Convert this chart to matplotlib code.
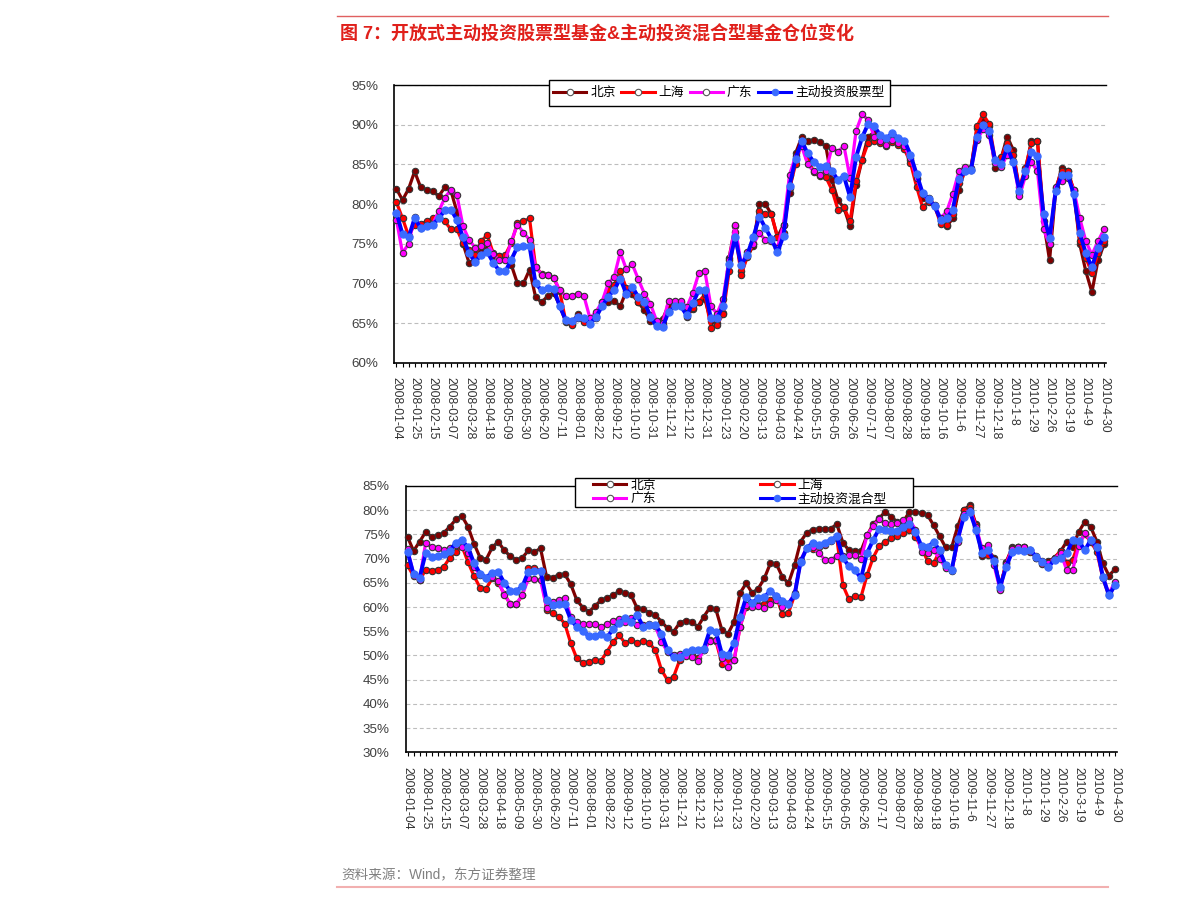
import matplotlib
matplotlib.use("Agg")
import matplotlib.pyplot as plt
from matplotlib.lines import Line2D
from matplotlib.patches import Rectangle
import numpy as np

plt.rcParams['font.family'] = ['Liberation Sans', 'Noto Sans CJK SC']
plt.rcParams['axes.unicode_minus'] = False

# ---------------- data ----------------
dates = [
    "2008-01-04", "2008-01-11", "2008-01-18", "2008-01-25", "2008-02-01", "2008-02-08",
    "2008-02-15", "2008-02-22", "2008-02-29", "2008-03-07", "2008-03-14", "2008-03-21",
    "2008-03-28", "2008-04-04", "2008-04-11", "2008-04-18", "2008-04-25", "2008-05-02",
    "2008-05-09", "2008-05-16", "2008-05-23", "2008-05-30", "2008-06-06", "2008-06-13",
    "2008-06-20", "2008-06-27", "2008-07-04", "2008-07-11", "2008-07-18", "2008-07-25",
    "2008-08-01", "2008-08-08", "2008-08-15", "2008-08-22", "2008-08-29", "2008-09-05",
    "2008-09-12", "2008-09-19", "2008-09-26", "2008-10-10", "2008-10-17", "2008-10-24",
    "2008-10-31", "2008-11-07", "2008-11-14", "2008-11-21", "2008-11-28", "2008-12-05",
    "2008-12-12", "2008-12-19", "2008-12-26", "2008-12-31", "2009-01-09", "2009-01-16",
    "2009-01-23", "2009-02-06", "2009-02-13", "2009-02-20", "2009-02-27", "2009-03-06",
    "2009-03-13", "2009-03-20", "2009-03-27", "2009-04-03", "2009-04-10", "2009-04-17",
    "2009-04-24", "2009-04-30", "2009-05-08", "2009-05-15", "2009-05-22", "2009-05-27",
    "2009-06-05", "2009-06-12", "2009-06-19", "2009-06-26", "2009-07-03", "2009-07-10",
    "2009-07-17", "2009-07-24", "2009-07-31", "2009-08-07", "2009-08-14", "2009-08-21",
    "2009-08-28", "2009-09-04", "2009-09-11", "2009-09-18", "2009-09-25", "2009-09-30",
    "2009-10-16", "2009-10-23", "2009-10-30", "2009-11-6", "2009-11-13", "2009-11-20",
    "2009-11-27", "2009-12-4", "2009-12-11", "2009-12-18", "2009-12-25", "2009-12-31",
    "2010-1-8", "2010-1-15", "2010-1-22", "2010-1-29", "2010-2-5", "2010-2-12",
    "2010-2-26", "2010-3-5", "2010-3-12", "2010-3-19", "2010-3-26", "2010-4-2",
    "2010-4-9", "2010-4-16", "2010-4-23", "2010-4-30",
]
tick_labels = [d if i % 3 == 0 else "" for i, d in enumerate(dates)]

names_top = ["北京", "上海", "广东", "主动投资股票型"]
names_bot = ["北京", "上海", "广东", "主动投资混合型"]

# top panel: 开放式主动投资股票型基金仓位 (%)
top_bj = [81.9, 80.5, 81.9, 84.1, 82.1, 81.8, 81.6, 81.0, 82.1, 81.7,
          79.0, 75.0, 72.6, 72.9, 74.0, 74.3, 73.5, 73.4, 73.3, 72.3,
          70.0, 70.0, 71.7, 68.3, 67.6, 68.4, 68.8, 67.2, 65.1, 64.9,
          66.2, 65.4, 65.4, 65.9, 67.4, 67.6, 67.8, 67.1, 69.0, 68.6,
          67.6, 66.6, 65.3, 65.0, 65.5, 67.2, 67.6, 67.7, 65.8, 66.8,
          67.6, 68.0, 65.2, 65.0, 66.3, 73.2, 77.2, 71.5, 73.4, 74.7,
          80.0, 80.0, 78.7, 75.8, 77.4, 81.4, 86.4, 88.4, 87.9, 88.1,
          87.8, 87.3, 83.0, 80.5, 79.5, 77.2, 82.4, 85.6, 88.5, 89.0,
          88.3, 87.8, 88.2, 87.8, 87.2, 85.6, 83.2, 80.8, 80.8, 79.8,
          77.8, 77.2, 78.2, 81.8, 84.3, 84.5, 89.6, 90.4, 89.8, 84.5,
          85.8, 88.5, 86.8, 81.4, 84.3, 88.0, 88.0, 77.8, 72.9, 81.6,
          84.6, 84.2, 81.6, 74.9, 71.5, 68.9, 72.9, 74.9]
top_sh = [80.2, 78.2, 76.0, 77.4, 77.5, 77.8, 78.2, 78.4, 77.8, 76.8,
          76.8, 75.1, 74.2, 73.6, 75.3, 76.1, 73.8, 73.4, 73.6, 75.1,
          77.6, 77.8, 78.2, 72.1, 71.2, 71.1, 70.7, 69.0, 65.2, 64.7,
          65.6, 65.1, 65.2, 65.6, 67.7, 69.2, 69.8, 71.5, 69.4, 69.2,
          67.7, 67.3, 66.0, 65.2, 64.8, 66.5, 67.3, 67.3, 66.9, 66.9,
          67.7, 68.6, 64.4, 64.8, 66.1, 71.5, 76.5, 71.1, 73.3, 75.1,
          79.1, 78.8, 78.7, 75.9, 76.3, 82.0, 85.0, 87.9, 85.8, 84.0,
          83.5, 83.4, 81.8, 79.3, 79.6, 77.8, 82.9, 85.6, 87.7, 87.9,
          87.7, 87.3, 87.8, 87.5, 86.9, 85.2, 82.2, 79.6, 80.3, 79.7,
          77.5, 77.4, 78.7, 82.6, 84.1, 84.3, 89.8, 91.3, 90.1, 85.6,
          85.9, 87.7, 86.2, 82.1, 84.5, 87.7, 87.9, 78.7, 74.9, 82.0,
          84.1, 84.1, 81.8, 75.3, 73.2, 71.3, 73.8, 75.3]
top_gd = [78.0, 73.8, 75.0, 78.4, 77.0, 77.3, 77.5, 79.1, 80.8, 81.8,
          81.1, 77.2, 75.5, 74.5, 74.7, 75.1, 73.7, 72.9, 72.9, 75.3,
          77.4, 76.4, 75.5, 72.1, 71.1, 71.1, 70.7, 69.1, 68.4, 68.4,
          68.7, 68.4, 65.6, 66.4, 67.7, 70.0, 70.8, 73.9, 71.8, 72.4,
          70.5, 68.7, 67.4, 65.3, 65.0, 67.8, 67.8, 67.8, 67.0, 68.8,
          71.3, 71.5, 67.1, 66.2, 68.0, 73.0, 77.3, 72.3, 73.9, 74.9,
          76.3, 75.5, 75.3, 74.5, 77.4, 83.7, 86.0, 87.3, 85.0, 84.1,
          83.7, 84.1, 87.1, 86.6, 87.3, 83.3, 89.2, 91.3, 90.6, 88.5,
          87.9, 87.5, 88.1, 87.7, 87.3, 85.8, 83.3, 81.2, 80.5, 79.9,
          78.2, 79.1, 81.3, 84.1, 84.7, 84.3, 88.1, 89.4, 88.7, 85.2,
          84.7, 86.2, 85.4, 81.0, 83.5, 85.3, 84.1, 76.8, 74.9, 82.2,
          82.9, 83.3, 81.8, 78.2, 75.3, 73.6, 75.3, 76.8]
top_fund = [78.9, 76.2, 75.8, 78.2, 77.0, 77.2, 77.4, 78.2, 79.2, 79.3,
            78.0, 75.8, 73.8, 72.7, 73.6, 74.0, 72.6, 71.6, 71.5, 73.0,
            74.6, 74.7, 74.7, 70.0, 69.1, 69.4, 69.3, 67.1, 65.4, 65.3,
            65.7, 65.6, 64.9, 65.8, 67.1, 68.3, 69.2, 70.6, 68.7, 69.5,
            68.3, 67.7, 65.8, 64.6, 64.5, 66.4, 67.1, 67.1, 66.0, 67.5,
            69.1, 69.2, 65.6, 65.6, 67.2, 72.4, 75.8, 72.3, 73.6, 75.8,
            78.4, 77.0, 75.6, 73.9, 76.0, 82.3, 85.7, 87.9, 86.4, 85.3,
            84.7, 84.8, 84.2, 83.0, 83.5, 80.9, 85.9, 88.4, 90.1, 89.8,
            88.7, 88.3, 88.9, 88.3, 88.0, 86.2, 83.8, 81.4, 80.6, 79.7,
            78.0, 78.2, 79.3, 83.2, 84.1, 84.3, 88.5, 90.0, 89.2, 85.5,
            85.0, 87.1, 85.3, 81.7, 84.1, 86.6, 86.0, 78.7, 75.7, 81.6,
            83.7, 83.7, 81.2, 76.3, 73.8, 72.0, 74.5, 75.9]

# bottom panel: 主动投资混合型基金仓位 (%)
bot_bj = [74.5, 71.6, 73.5, 75.5, 74.5, 74.8, 75.3, 76.6, 78.1, 78.8,
          76.6, 73.1, 70.2, 69.8, 72.3, 73.5, 71.7, 70.5, 69.7, 70.2,
          71.7, 71.4, 72.1, 66.2, 66.1, 66.6, 66.8, 64.7, 61.4, 59.9,
          59.0, 60.2, 61.4, 61.9, 62.4, 63.3, 62.9, 62.4, 59.7, 59.5,
          58.8, 58.3, 57.0, 55.6, 54.9, 56.7, 57.2, 57.0, 55.9, 58.0,
          59.9, 59.5, 55.2, 54.5, 56.9, 62.9, 64.9, 62.9, 63.8, 65.9,
          69.0, 68.9, 66.2, 64.9, 68.6, 73.5, 75.3, 76.0, 76.1, 76.2,
          76.2, 77.1, 73.3, 71.7, 71.6, 71.6, 74.8, 77.1, 78.3, 79.7,
          78.6, 77.6, 77.6, 79.7, 79.7, 79.4, 79.0, 76.9, 74.6, 72.3,
          72.4, 76.7, 80.1, 81.0, 77.1, 70.5, 71.7, 70.2, 63.8, 69.3,
          72.3, 72.3, 72.3, 71.7, 70.2, 69.1, 69.5, 70.2, 71.5, 73.5,
          72.5, 75.5, 77.6, 76.5, 73.5, 69.0, 66.5, 67.8]
bot_sh = [68.6, 66.4, 65.5, 67.7, 67.5, 67.7, 68.3, 70.2, 71.4, 72.6,
          69.3, 66.4, 64.0, 63.8, 65.9, 65.0, 62.7, 60.6, 60.6, 62.4,
          68.0, 68.0, 67.5, 59.4, 58.7, 58.0, 56.6, 52.5, 49.4, 48.5,
          48.7, 49.0, 48.9, 50.8, 52.8, 54.2, 52.5, 53.2, 52.5, 53.0,
          52.5, 51.1, 47.0, 44.9, 45.6, 49.0, 50.1, 50.1, 49.4, 51.1,
          53.2, 53.0, 48.3, 48.9, 49.0, 55.9, 60.0, 60.4, 60.4, 60.7,
          61.4, 62.2, 58.5, 58.8, 62.4, 69.3, 72.1, 71.9, 72.3, 72.8,
          73.7, 74.2, 64.5, 61.6, 62.2, 62.1, 66.6, 70.2, 72.6, 73.5,
          74.2, 74.6, 75.3, 76.0, 74.5, 72.3, 69.5, 69.0, 71.6, 68.2,
          67.5, 73.8, 80.0, 80.6, 76.9, 71.1, 70.7, 69.8, 64.2, 69.0,
          72.1, 72.3, 72.3, 71.4, 70.2, 68.9, 68.3, 70.2, 71.6, 69.1,
          69.8, 73.3, 75.0, 73.5, 71.4, 65.9, 62.4, 64.5]
bot_gd = [71.9, 66.8, 65.5, 73.3, 72.3, 72.1, 71.7, 72.1, 72.8, 72.4,
          71.1, 68.3, 66.6, 66.1, 66.2, 65.4, 62.5, 60.7, 60.7, 62.5,
          65.9, 65.7, 65.5, 59.9, 61.1, 61.4, 61.8, 58.0, 56.9, 56.5,
          56.5, 56.5, 55.9, 56.5, 57.2, 57.5, 57.0, 57.8, 56.2, 56.3,
          56.5, 56.0, 52.8, 50.8, 50.1, 50.4, 49.9, 49.6, 48.9, 51.1,
          53.0, 53.2, 49.4, 47.7, 49.0, 55.9, 60.4, 60.0, 60.2, 59.9,
          60.7, 61.4, 60.0, 60.7, 62.8, 69.7, 72.1, 72.3, 71.2, 69.8,
          69.8, 70.5, 70.5, 70.7, 70.7, 70.0, 74.8, 76.7, 78.1, 77.4,
          77.2, 77.4, 77.9, 78.1, 76.0, 71.4, 71.1, 71.7, 70.0, 68.0,
          67.6, 73.5, 79.3, 80.1, 76.6, 72.1, 72.8, 68.6, 63.6, 68.9,
          71.9, 72.3, 72.4, 71.7, 70.5, 69.5, 69.1, 70.0, 71.2, 67.7,
          67.7, 72.6, 75.2, 73.8, 72.1, 66.2, 62.8, 65.2]
bot_fund = [71.4, 66.8, 66.1, 71.1, 70.4, 70.5, 70.9, 71.6, 73.3, 73.8,
            72.3, 69.1, 66.9, 66.1, 67.1, 67.3, 65.0, 63.3, 63.3, 64.3,
            67.3, 67.5, 67.5, 61.4, 60.4, 60.6, 60.6, 57.4, 55.9, 55.1,
            54.0, 54.0, 54.4, 53.8, 55.4, 56.7, 57.8, 56.9, 58.3, 55.9,
            56.2, 56.2, 54.5, 51.1, 49.6, 49.6, 50.8, 51.1, 51.1, 51.4,
            55.2, 54.9, 50.3, 50.0, 52.5, 58.0, 62.0, 60.9, 61.8, 62.1,
            63.3, 62.2, 61.3, 60.7, 62.4, 69.3, 72.1, 73.3, 72.8, 73.3,
            73.8, 74.6, 70.2, 68.4, 67.7, 65.9, 71.2, 73.8, 76.2, 76.0,
            75.7, 75.7, 76.6, 77.2, 75.5, 72.6, 72.3, 73.5, 71.7, 68.6,
            67.7, 74.1, 78.6, 79.7, 76.0, 71.2, 71.7, 69.5, 64.2, 68.3,
            71.4, 71.7, 71.6, 71.7, 70.4, 69.3, 68.3, 69.7, 70.2, 71.1,
            73.8, 73.7, 71.7, 73.9, 72.4, 66.2, 62.4, 64.5]

top_yticks = [60, 65, 70, 75, 80, 85, 90, 95]
bot_yticks = [30, 35, 40, 45, 50, 55, 60, 65, 70, 75, 80, 85]

# ---------------- styling ----------------
line_colors = ["#800000", "#FF0000", "#FF00FF", "#0000FF"]
face_colors = ["#800000", "#FF0000", "#FF00FF", "#3A6BFF"]
edge_colors = ["#333333", "#333333", "#333333", "#3A6BFF"]
line_widths = [2.3, 2.3, 2.3, 2.8]
marker_sizes = [4.6, 4.6, 4.6, 5.2]

W, H = 1191, 902
fig = plt.figure(figsize=(W / 100, H / 100), dpi=100)


def px_axes(l, t, r, b):
    return fig.add_axes([l / W, 1 - b / H, (r - l) / W, (b - t) / H])


def draw_panel(ax, series, yticks, xlim):
    x = np.arange(len(dates))
    for k, vals in enumerate(series):
        ax.plot(x, vals, color=line_colors[k], lw=line_widths[k], marker="o",
                ms=marker_sizes[k], mfc=face_colors[k], mec=edge_colors[k],
                mew=0.8, zorder=3 + k, clip_on=False, solid_joinstyle="round")
    ax.set_xlim(*xlim)
    ax.set_ylim(yticks[0], yticks[-1])
    ax.set_yticks(yticks)
    ax.set_yticklabels([f"{v}%" for v in yticks])
    ax.set_xticks(x)
    ax.set_xticklabels(tick_labels, rotation=270, fontsize=8.8, color="#333333")
    ax.tick_params(axis="x", direction="out", length=3, width=0.8, pad=7.5)
    ax.tick_params(axis="y", length=0, pad=11.5, labelsize=9.6, labelcolor="#404040")
    ax.yaxis.grid(True, linestyle=(0, (3.5, 2.5)), color="#BDBDBD", linewidth=0.8)
    ax.set_axisbelow(True)
    ax.spines["right"].set_visible(False)
    for s in ("left", "bottom"):
        ax.spines[s].set_linewidth(1.2)
        ax.spines[s].set_color("#000000")
    ax.spines["top"].set_linewidth(1.0)
    ax.spines["top"].set_color("#000000")


ax1 = px_axes(394.3, 85, 1106, 362.7)
draw_panel(ax1, [top_bj, top_sh, top_gd, top_fund], top_yticks, (-0.36, 117.33))

ax2 = px_axes(405.7, 486, 1117, 752.3)
draw_panel(ax2, [bot_bj, bot_sh, bot_gd, bot_fund], bot_yticks, (-0.30, 117.33))


def legend_handles(names):
    hs = []
    for k, n in enumerate(names):
        mfc = "white" if k < 3 else face_colors[k]
        mec = "#555555" if k < 3 else face_colors[k]
        hs.append(Line2D([0], [0], color=line_colors[k], lw=2.2, marker="o",
                         ms=4.6, mfc=mfc, mec=mec, mew=0.8, label=n))
    return hs


def frame_box(l, t, r, b):
    rect = Rectangle((l / W, 1 - b / H), (r - l) / W, (b - t) / H,
                     transform=fig.transFigure, facecolor="white",
                     edgecolor="black", linewidth=1.0, zorder=2)
    fig.patches.append(rect)


# top legend (one row)
frame_box(549, 80, 890, 106)
h_top = legend_handles(names_top)
fig.legend(handles=h_top, loc="center left", bbox_to_anchor=(553 / W, 1 - 93 / H),
           ncol=4, frameon=False, fontsize=9.2, handlelength=2.6,
           handletextpad=0.3, columnspacing=0.45, borderpad=0.0, borderaxespad=0.0)

# bottom legend (two rows)
frame_box(575, 478, 913, 507)
h_bot = legend_handles(names_bot)
fig.legend(handles=[h_bot[0], h_bot[2], h_bot[1], h_bot[3]], loc="center left",
           bbox_to_anchor=(593 / W, 1 - 492.5 / H), ncol=2, frameon=False,
           fontsize=9.2, handlelength=2.6, handletextpad=0.3, columnspacing=8.2,
           labelspacing=0.12, borderpad=0.0, borderaxespad=0.0)

# title, source and rules
fig.text(340 / W, 1 - 35 / H, "图 7：开放式主动投资股票型基金&主动投资混合型基金仓位变化",
         color="#E0201B", fontsize=13, fontweight="bold", va="center", ha="left")
fig.text(341 / W, 1 - 875 / H, "资料来源：Wind，东方证券整理",
         color="#808080", fontsize=9.8, va="center", ha="left")
fig.add_artist(Line2D([337 / W, 1108 / W], [1 - 15.5 / H, 1 - 15.5 / H],
                      transform=fig.transFigure, color="#E06060", lw=1.0))
fig.add_artist(Line2D([337 / W, 1108 / W], [1 - 887 / H, 1 - 887 / H],
                      transform=fig.transFigure, color="#F2B0B0", lw=1.5))

fig.savefig("out.png", dpi=100, facecolor="white")
